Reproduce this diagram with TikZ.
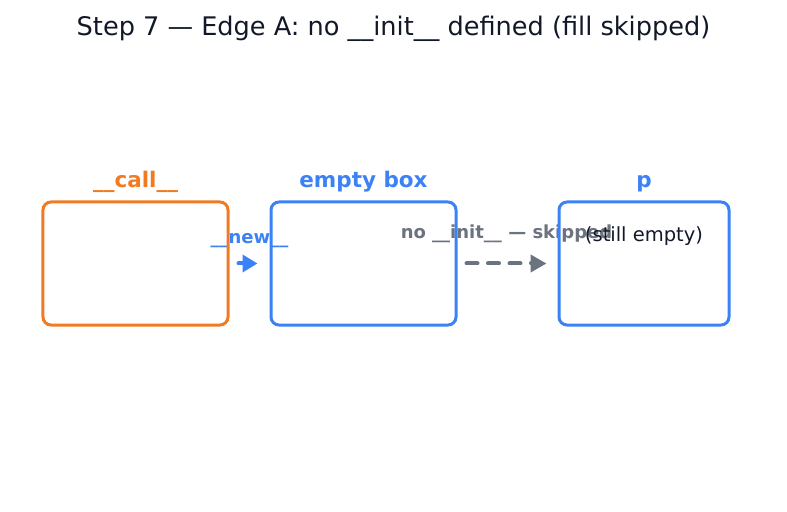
\documentclass[tikz,border=0pt]{standalone}
\usepackage{fontspec}
\setmainfont{DejaVu Sans}
\usetikzlibrary{arrows.meta, backgrounds}
\definecolor{callorange}{HTML}{F07B22}
\definecolor{boxblue}{HTML}{3B82F6}
\definecolor{skipgray}{HTML}{6B7280}
\definecolor{inkdark}{HTML}{111827}
\newcommand{\boxHeight}{123bp}
\tikzset{
  objbox/.style={draw, line width=3bp, rounded corners=8bp, minimum height=\boxHeight, inner sep=0pt},
  boxname/.style={anchor=base, font=\fontsize{21.5bp}{26bp}\selectfont\bfseries},
  edgename/.style={anchor=base, font=\fontsize{18bp}{22bp}\selectfont\bfseries},
  newarrow/.style={draw=boxblue, line width=4bp, line cap=round, -{Triangle[length=15bp,width=17bp]}, shorten <=9bp, shorten >=12bp},
  skiparrow/.style={draw=skipgray, line width=4bp, line cap=round, dash pattern=on 11bp off 10.5bp, -{Triangle[length=16bp,width=17bp]}, shorten <=9bp, shorten >=11bp},
}

\begin{document}
\begin{tikzpicture}[x=1bp,y=-1bp]
\useasboundingbox (0,0) rectangle (787,512);
\node[anchor=base, font=\fontsize{25.6bp}{30bp}\selectfont, text=inkdark] (title) at (393.5,36) {Step 7 — Edge A: no \_\_init\_\_ defined (fill skipped)};

\node[objbox, draw=callorange, minimum width=185bp] (call) at (135.5,263.5) {};
\node[objbox, draw=boxblue, minimum width=185bp] (empty) at (363.5,263.5) {};
\node[objbox, draw=boxblue, minimum width=170bp] (p) at (644,263.5) {};

\node[boxname, text=callorange] (calllabel) at ([yshift=13bp]call.north) {\_\_call\_\_};
\node[boxname, text=boxblue] (emptylabel) at ([yshift=13bp]empty.north) {empty box};
\node[boxname, text=boxblue] (plabel) at ([yshift=13bp]p.north) {p};
\node[anchor=base, font=\fontsize{19.5bp}{23bp}\selectfont, text=inkdark] (pnote) at ([yshift=-41bp]p.north) {(still empty)};

\begin{scope}[on background layer]
\draw[newarrow] (call.east) -- node[edgename, text=boxblue, yshift=20bp] (newlabel) {\_\_new\_\_} (empty.west);
\draw[skiparrow] (empty.east) -- node[edgename, text=skipgray, yshift=25bp, xshift=-1bp] (skiplabel) {no \_\_init\_\_ — skipped} (p.west);
\end{scope}
\end{tikzpicture}
\end{document}
